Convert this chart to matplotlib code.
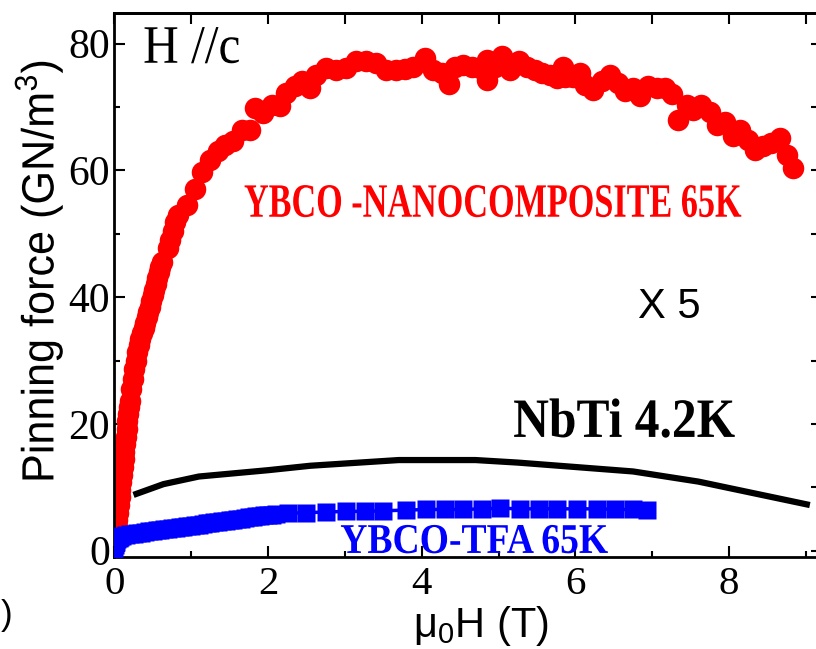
import matplotlib
matplotlib.use("Agg")
import matplotlib.pyplot as plt
from matplotlib import patheffects
from matplotlib.transforms import Affine2D
from matplotlib.ticker import MultipleLocator, FixedLocator

plt.rcParams['font.family'] = ['Liberation Serif', 'DejaVu Serif']
plt.rcParams['mathtext.default'] = 'regular'

# ---- YBCO nanocomposite, 65 K (pinning force, GN/m^3) ----
field_nano = [0.00, 0.01, 0.02, 0.03, 0.04, 0.05, 0.06, 0.07, 0.08, 0.09,
              0.10, 0.11, 0.12, 0.13, 0.14, 0.15, 0.16, 0.17, 0.18, 0.19,
              0.20, 0.22, 0.24, 0.26, 0.28, 0.30, 0.32, 0.34, 0.36, 0.38,
              0.40, 0.42, 0.44, 0.46, 0.48, 0.50, 0.52, 0.54, 0.56, 0.58,
              0.60, 0.62,
              0.70, 0.73, 0.76, 0.79, 0.83, 0.95, 1.05, 1.14,
              1.25, 1.35, 1.44, 1.55, 1.66, 1.77, 1.83, 1.94, 2.05, 2.16,
              2.24, 2.35, 2.44, 2.55, 2.63, 2.76, 2.89, 3.02, 3.15, 3.28,
              3.41, 3.54, 3.67, 3.78, 3.88, 4.04, 4.15, 4.26, 4.35, 4.43,
              4.54, 4.65, 4.76, 4.85, 4.85, 4.95, 5.04, 5.15, 5.26, 5.37,
              5.47, 5.56, 5.67, 5.76, 5.84, 5.86, 5.97, 6.06, 6.12, 6.23,
              6.34, 6.45, 6.56, 6.65, 6.75, 6.84, 6.95, 7.06, 7.16, 7.25,
              7.34, 7.45, 7.53, 7.64, 7.75, 7.84, 7.95, 8.05, 8.14, 8.25,
              8.34, 8.44, 8.55, 8.66, 8.75, 8.83]
fp_nano = [0.5, 1.6, 2.7, 3.8, 4.9, 6.0, 7.2, 8.4, 9.6, 10.8,
           12.0, 13.2, 14.4, 15.6, 16.8, 18.0, 19.2, 20.4, 21.5, 22.6,
           23.6, 25.5, 27.1, 28.6, 30.0, 31.3, 32.4, 33.4, 34.3, 35.2,
           36.0, 36.8, 37.6, 38.5, 39.4, 40.3, 41.2, 42.1, 43.0, 43.9,
           44.8, 45.6,
           47.8, 49.0, 50.5, 51.8, 53.0, 54.6, 57.0, 59.7,
           61.7, 63.0, 64.0, 64.6, 66.4, 66.4, 69.9, 69.1, 70.4, 70.1,
           72.2, 73.3, 74.1, 73.0, 75.1, 76.2, 75.9, 76.2, 77.2, 77.2,
           77.0, 75.9, 75.9, 76.0, 76.4, 77.8, 75.8, 75.4, 73.6, 76.4,
           76.7, 76.4, 76.2, 77.5, 74.3, 76.4, 78.0, 75.9, 77.2, 76.4,
           75.9, 75.4, 75.1, 74.6, 76.4, 74.8, 74.8, 75.4, 73.5, 72.7,
           74.1, 75.1, 73.8, 72.5, 73.0, 71.7, 73.3, 73.0, 73.0, 72.0,
           68.0, 70.4, 69.6, 70.4, 69.3, 67.2, 67.7, 65.4, 66.4, 64.8,
           63.2, 63.8, 64.3, 65.1, 62.5, 60.4]

# ---- YBCO-TFA, 65 K ----
field_tfa = [0.00, 0.01, 0.02, 0.04, 0.06, 0.08, 0.10, 0.15, 0.20, 0.25,
             0.30, 0.35, 0.40, 0.45, 0.50, 0.55, 0.60, 0.65, 0.70, 0.75,
             0.80, 0.85, 0.90, 0.95, 1.00, 1.05, 1.10, 1.15, 1.20, 1.25,
             1.30, 1.35, 1.40, 1.45, 1.50, 1.55, 1.60, 1.65, 1.70, 1.75,
             1.80, 1.85, 1.90, 1.95, 2.00, 2.05, 2.10,
             2.26, 2.50, 2.76, 3.02, 3.26, 3.50, 3.80, 4.06, 4.30, 4.54,
             4.78, 5.02, 5.28, 5.52, 5.76, 6.02, 6.28, 6.52, 6.75, 6.93]
fp_tfa = [0.0, 0.9, 1.4, 1.8, 2.0, 2.15, 2.25, 2.45, 2.6, 2.7,
          2.8, 2.85, 2.95, 3.05, 3.1, 3.2, 3.3, 3.35, 3.45, 3.5,
          3.6, 3.7, 3.8, 3.85, 3.95, 4.0, 4.1, 4.2, 4.3, 4.4,
          4.45, 4.55, 4.65, 4.7, 4.8, 4.9, 4.95, 5.05, 5.15, 5.25,
          5.3, 5.4, 5.45, 5.55, 5.6, 5.7, 5.75,
          5.9, 6.0, 6.1, 6.2, 6.2, 6.3, 6.4, 6.5, 6.5, 6.5,
          6.6, 6.7, 6.6, 6.6, 6.6, 6.6, 6.6, 6.5, 6.5, 6.4]

# ---- NbTi, 4.2 K (plotted x5) ----
field_nbti = [0.25, 0.64, 1.10, 2.00, 2.55, 3.70, 4.70, 5.25, 6.75, 7.60, 9.05]
fp_nbti = [1.76, 2.10, 2.34, 2.54, 2.68, 2.86, 2.86, 2.78, 2.50, 2.18, 1.44]
nbti_scale = 5

x_major = [0, 2, 4, 6, 8]
y_major = [0, 20, 40, 60, 80]


class Squeeze(patheffects.AbstractPathEffect):
    """Draw text glyphs scaled along / across the writing direction."""

    def __init__(self, sx, sy=1.0, shift=0.0):
        super().__init__()
        self.sx = sx
        self.sy = sy
        self.shift = shift

    def draw_path(self, renderer, gc, tpath, affine, rgbFace=None):
        tr = (Affine2D().scale(self.sx, self.sy) + affine
              + Affine2D().translate(self.shift, 0))
        renderer.draw_path(gc, tpath, tr, rgbFace)


W, H = 816, 649
fig = plt.figure(figsize=(W / 100, H / 100), dpi=100)
ax = fig.add_axes([114.3 / W, 1 - 557 / H, (818 - 114.3) / W, (557 - 12.7) / H])

ax.plot(field_nano, fp_nano, 'o', color='#ff0000', ms=15.5, mec='none', zorder=2)
ax.plot(field_nbti, [v * nbti_scale for v in fp_nbti], '-', color='black', lw=4.5,
        solid_capstyle='butt', solid_joinstyle='round', zorder=3)
ax.plot(field_tfa, fp_tfa, '-s', color='#0000ff', ms=12.5, lw=2.5, mec='none', zorder=4)

ax.set_xlim(0, 9.156)
ax.set_ylim(-1, 84.9)
ax.xaxis.set_major_locator(FixedLocator(x_major))
ax.xaxis.set_minor_locator(MultipleLocator(1))
ax.yaxis.set_major_locator(FixedLocator(y_major))
ax.yaxis.set_minor_locator(MultipleLocator(10))
ax.tick_params(which='both', direction='in', width=1.5, top=False, right=False)
ax.tick_params(which='major', length=8)
ax.tick_params(which='minor', length=4)
ax.tick_params(axis='x', pad=6.5, labelsize=29.5, labelfontfamily='Liberation Serif')
ax.tick_params(axis='y', pad=3, labelsize=30, labelfontfamily='Liberation Serif')
for s in ax.spines.values():
    s.set_linewidth(2)

top = ax.secondary_xaxis('top')
top.set_xticks(list(range(0, 10)))
top.tick_params(direction='in', length=8, width=1.5, labeltop=False)
top.spines['top'].set_linewidth(2)
right = ax.secondary_yaxis('right')
right.set_yticks(list(range(0, 81, 10)))
right.tick_params(direction='in', length=5, width=1.5, labelright=False)
right.spines['right'].set_linewidth(2)

# annotations: (artist, target length along the text in pixels, vertical stretch)
squeezed = [
    (ax.text(0.375, 77.0, 'H //c', fontsize=39, color='black',
             ha='left', va='baseline'), 97, 1.0),
    (ax.text(8.167, 52.7, 'YBCO -NANOCOMPOSITE 65K', fontsize=30.5, fontweight='bold',
             color='#ff0000', ha='right', va='baseline'), 498, 1.13),
    (ax.text(5.19, 17.95, 'NbTi 4.2K', fontsize=40, fontweight='bold', color='black',
             ha='left', va='baseline'), 222, 1.0),
    (ax.text(2.94, -0.36, 'YBCO-TFA 65K', fontsize=30.5, fontweight='bold',
             color='#0000ff', ha='left', va='baseline'), 268, 1.0),
    (fig.text(53.5 / W, 1 - 483 / H, r'Pinning force (GN/m$^3$)', fontsize=32.5,
              family='Liberation Sans', rotation=90, rotation_mode='anchor',
              ha='left', va='baseline'), 423, 1.0),
]
ax.text(6.81, 36.7, 'X 5', fontsize=30, family='Liberation Sans', color='black',
        ha='left', va='baseline')

fig.text(413 / W, 1 - 637 / H, r'$\mathregular{\mu_0}$H (T)', fontsize=30,
         family='Liberation Sans', ha='left', va='baseline')
fig.text(0.5 / W, 1 - 625.5 / H, ')', fontsize=25, family='Liberation Sans',
         ha='left', va='baseline')

renderer = fig.canvas.get_renderer()
for t, length, sy in squeezed:
    bb = t.get_window_extent(renderer)
    natural = bb.height if t.get_rotation() == 90 else bb.width
    sx = length / natural
    shift = (1 - sx) * natural if t.get_ha() == 'right' else 0.0
    t.set_path_effects([Squeeze(sx, sy, shift)])

fig.savefig('out.png', dpi=100)
